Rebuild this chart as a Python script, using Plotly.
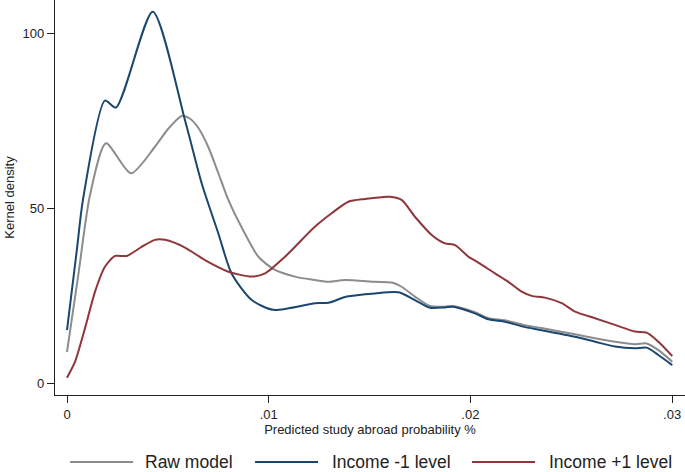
import plotly.graph_objects as go

# Kernel density estimates
raw_x = [0.0, 0.00056, 0.00114, 0.00193, 0.00317, 0.00436, 0.005, 0.00569, 0.0061,
         0.0065, 0.007, 0.0075, 0.008, 0.0087, 0.0095, 0.01031, 0.0113, 0.0123, 0.01296,
         0.01378, 0.01527, 0.0161, 0.01659, 0.01725, 0.018, 0.01874, 0.01915, 0.02023,
         0.02089, 0.02172, 0.02262, 0.02353, 0.02519, 0.02618, 0.02717, 0.02816, 0.02874,
         0.02932, 0.03001]
raw_y = [8.9, 30.9, 53.7, 68.5, 59.9, 67.5, 72.5, 76.3, 75.5,
         73.0, 67.5, 60.0, 52.3, 44.0, 36.0, 32.3, 30.4, 29.4, 28.9,
         29.4, 28.9, 28.7, 27.5, 24.7, 22.0, 21.8, 22.0, 20.2,
         18.5, 17.9, 16.6, 15.7, 13.9, 12.8, 11.8, 11.1, 11.3,
         9.4, 6.1]

low_x = [0.0, 0.0005, 0.00079, 0.00188, 0.00243, 0.00425, 0.00585, 0.00668, 0.0075,
         0.00816, 0.00916, 0.01023, 0.0123, 0.01296, 0.01387, 0.01527, 0.01643, 0.01725,
         0.018, 0.01874, 0.01915, 0.02023, 0.02089, 0.02172, 0.02262, 0.02353, 0.02519,
         0.02618, 0.02717, 0.02816, 0.02874, 0.02932, 0.03001]
low_y = [15.1, 38.6, 52.3, 80.7, 78.7, 106.1, 75.1, 57.0, 42.8,
         31.3, 23.7, 20.9, 22.8, 22.9, 24.7, 25.6, 25.9, 23.7,
         21.5, 21.6, 21.8, 19.9, 18.2, 17.5, 16.1, 15.1, 13.2,
         11.8, 10.4, 9.9, 10.1, 8.0, 5.1]

high_x = [0.0, 0.0004, 0.00089, 0.00139, 0.00188, 0.00238, 0.00296, 0.0037, 0.00436,
          0.00486, 0.00585, 0.00684, 0.008, 0.00916, 0.00982, 0.01081, 0.0123, 0.01312,
          0.01395, 0.01477, 0.0156, 0.01601, 0.01659, 0.01725, 0.01808, 0.01874, 0.01924,
          0.0199, 0.02039, 0.02122, 0.02188, 0.02254, 0.02304, 0.0237, 0.02453, 0.02519,
          0.02618, 0.02717, 0.02816, 0.02874, 0.02932, 0.03001]
high_y = [1.5, 6.1, 15.6, 26.1, 33.2, 36.3, 36.3, 38.9, 40.9,
          40.9, 38.7, 35.1, 31.8, 30.4, 31.3, 36.1, 44.7, 48.5,
          51.8, 52.6, 53.1, 53.2, 52.3, 47.5, 42.3, 39.9, 39.4,
          36.1, 34.4, 31.3, 28.9, 26.1, 24.9, 24.4, 22.8, 20.4,
          18.5, 16.6, 14.7, 14.4, 11.8, 7.7]

names = ["Raw model", "Income -1 level", "Income +1 level"]
colors = ["#8c8c8c", "#1a476f", "#90353b"]
x_ticks = [0, 0.01, 0.02, 0.03]
x_tick_labels = ["0", ".01", ".02", ".03"]
y_ticks = [0, 50, 100]

FONT = "Arial, Liberation Sans, sans-serif"

fig = go.Figure()
for xs, ys, name, col in zip([raw_x, low_x, high_x], [raw_y, low_y, high_y], names, colors):
    fig.add_trace(go.Scatter(
        x=xs, y=ys, name=name, mode="lines",
        line=dict(color=col, width=2, shape="spline", smoothing=0.7),
        showlegend=False,
    ))

fig.update_layout(
    width=685, height=472,
    paper_bgcolor="white", plot_bgcolor="white",
    margin=dict(l=55, r=0, t=0, b=77),
    font=dict(family=FONT, color="#222222", size=13),
)
fig.update_xaxes(
    range=[-0.000595, 0.03064], tickvals=x_ticks, ticktext=x_tick_labels,
    showgrid=False, zeroline=False, showline=True, linecolor="#222222", linewidth=1.3,
    ticks="outside", ticklen=7, tickcolor="#222222", tickwidth=1.2,
    tickfont=dict(size=13),
    title=dict(text="Predicted study abroad probability %", font=dict(size=13), standoff=4),
    automargin=False,
)
fig.update_yaxes(
    range=[-3.43, 109.43], tickvals=y_ticks,
    showgrid=False, zeroline=False, showline=True, linecolor="#222222", linewidth=1.3,
    ticks="outside", ticklen=7, tickcolor="#222222", tickwidth=1.2,
    tickfont=dict(size=13),
    title=dict(text="Kernel density", font=dict(size=13), standoff=4),
    automargin=False,
)

# legend drawn under the plot, Stata style with long line keys
leg_pos = [(0.024, 0.124, 0.140), (0.3175, 0.4175, 0.4365), (0.662, 0.762, 0.781)]
for (x0, x1, xt), name, col in zip(leg_pos, names, colors):
    fig.add_shape(type="line", xref="paper", yref="paper", x0=x0, x1=x1,
                  y0=-0.1696, y1=-0.1696, line=dict(color=col, width=2))
    fig.add_annotation(xref="paper", yref="paper", x=xt, y=-0.1696, text=name,
                       showarrow=False, xanchor="left", yanchor="middle",
                       font=dict(size=17.5, color="#222222"))

# drop the default page margin so the figure sits at the window's corner
fig.write_html("out.html", config={"displayModeBar": False},
               post_script="document.body.style.margin='0';")
